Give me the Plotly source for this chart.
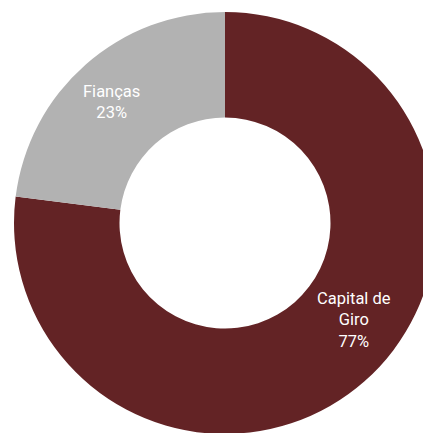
import plotly.graph_objects as go

labels = ["Capital de Giro", "Fianças"]
values = [77, 23]
label_lines = ["Capital de<br>Giro", "Fianças"]
colors = ["#632325", "#b2b2b2"]

fig = go.Figure()
fig.add_trace(go.Pie(
    labels=labels,
    values=values,
    hole=0.5,
    sort=False,
    direction="clockwise",
    rotation=0,
    marker=dict(colors=colors, line=dict(width=0)),
    textinfo="none",
    hoverinfo="label+percent",
    showlegend=False,
))

# label positions (paper coords)
ann_pos = [(0.806, 0.270), (0.232, 0.787)]
total = sum(values)
for name, v, (x, y) in zip(label_lines, values, ann_pos):
    fig.add_annotation(
        x=x, y=y, xref="paper", yref="paper",
        text=f"{name}<br>{round(100 * v / total)}%", showarrow=False,
        font=dict(family="Roboto", size=16.5, color="white"), align="center",
        xanchor="center", yanchor="middle",
    )

fig.update_layout(
    width=436, height=434,
    margin=dict(l=14, r=0, t=12, b=0),
    paper_bgcolor="white", plot_bgcolor="white",
)

fig.write_html(
    "out.html",
    config={"displayModeBar": False},
    post_script="document.body.style.margin='0';document.body.style.overflow='hidden';document.documentElement.style.overflow='hidden';",
)
